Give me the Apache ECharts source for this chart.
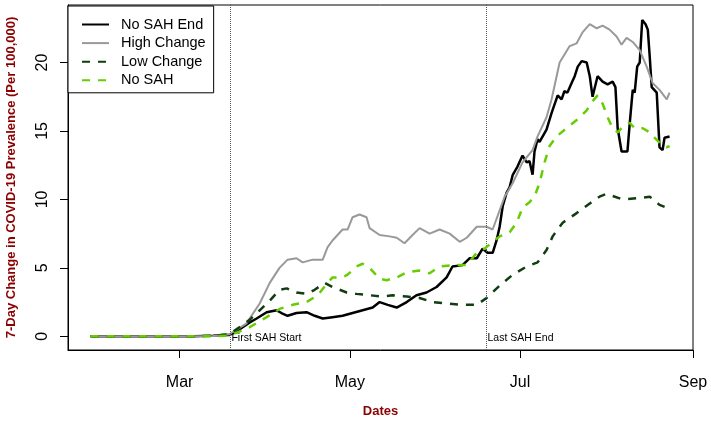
<!DOCTYPE html>
<html><head><meta charset="utf-8">
<script src="https://cdn.jsdelivr.net/npm/echarts@6/dist/echarts.min.js"></script>
<style>html,body{margin:0;padding:0;background:#fff}#c{width:711px;height:424px}</style>
</head><body><div id="c"></div>
<script>
// x values are day numbers of 2020 (Jan 1 = 0)
const monthTickDays = [60, 121, 182, 244];
const monthTickLabels = ['Mar', 'May', 'Jul', 'Sep'];
const yTickValues = [0, 5, 10, 15, 20];
const seriesNames = ['No SAH End', 'High Change', 'Low Change', 'No SAH'];
const sahDays = [78.2, 170.0];
const sahLabels = ['First SAH Start', 'Last SAH End'];

const noSahEndDays = [28.1,50,65,72,75,77.9,80,82.6,85,87.6,91.2,94.8,96.5,98.7,101.9,105.5,108.4,111.3,114.8,118.4,122.0,125.6,129.2,131.7,134.6,137.8,141.4,144.9,148.5,152.1,155.7,157.8,161.4,163.9,166.5,168.6,170.4,172.2,173.6,174.7,175.8,177.2,178.3,179.4,181.1,182.9,184.4,185.4,186.5,187.2,188.3,189.0,191.5,193.3,195.5,196.9,197.9,199.0,200.5,201.6,202.7,204.1,205.9,207.0,208.0,209.8,211.6,213.4,215.2,216.2,217.0,218.4,220.5,221.3,222.4,223.1,224.0,224.9,225.8,227.0,227.8,228.5,229.2,231.0,232.0,233.1,233.8,235.6];
const noSahEndValues = [0,0,0,0.05,0.1,0.1,0.3,0.66,1.0,1.3,1.76,1.9,1.7,1.5,1.7,1.76,1.5,1.3,1.4,1.5,1.7,1.9,2.1,2.5,2.3,2.1,2.5,3.0,3.2,3.6,4.3,5.1,5.2,5.7,5.7,6.4,6.1,6.1,7.0,8.0,9.5,10.5,10.9,11.8,12.4,13.2,12.7,12.8,11.8,13.5,14.4,14.2,15.1,16.3,17.6,17.3,17.9,17.8,18.5,19.0,19.7,20.1,20.0,19.0,17.5,19.0,18.6,18.4,18.6,18.2,15.2,13.5,13.5,15.5,18.0,17.8,19.7,20.0,23.1,22.8,22.4,20.4,18.2,17.8,13.8,13.6,14.5,14.6];

const highDays = [28.1,50,65,72,75,77.9,83.9,88.7,92.3,95.8,98.7,101.9,104.1,107.7,111.3,113.0,114.8,118.4,120.2,122.0,124.5,127.0,128.1,131.7,135.3,137.8,140.6,143.5,146.0,149.6,153.2,156.8,160.4,162.9,166.5,170.0,172.2,176.5,179.4,182.9,186.5,188.3,191.5,193.3,196.2,199.8,202.3,204.4,207.0,209.5,211.6,214.1,216.6,218.4,220.2,222.4,224.9,227.4,229.5,232.0,234.6,235.6];
const highValues = [0,0,0,0.03,0.08,0.15,0.93,2.4,3.9,5.0,5.6,5.7,5.4,5.6,5.6,6.5,7.0,7.8,7.8,8.7,8.9,8.7,7.9,7.4,7.3,7.2,6.8,7.4,7.9,7.5,7.8,7.5,6.9,7.2,8.0,8.0,7.8,10.2,11.2,12.7,13.6,14.6,16.0,17.3,20.0,21.2,21.4,22.2,22.8,22.5,22.7,22.4,21.9,21.3,21.8,21.5,20.9,19.7,18.5,18.0,17.3,17.8];

const lowDays = [28.1,50,65,72,75,77.9,85.1,88.7,92.3,95.8,98.4,101.9,105.5,108.4,112.0,114.8,119.9,123.4,128.1,132.8,136.3,141.4,146.0,150.7,155.7,161.4,166.5,170.0,174.7,179.4,184.4,188.3,191.5,193.7,197.3,202.3,207.0,210.5,213.0,218.8,224.9,228.5,232.0,235.6];
const lowValues = [0,0,0,0.05,0.1,0.15,1.2,1.9,2.6,3.4,3.5,3.2,3.1,3.4,3.9,3.6,3.2,3.1,3.0,2.9,3.0,2.9,2.8,2.5,2.4,2.3,2.3,2.8,3.7,4.5,5.1,5.4,6.3,7.3,8.3,9.0,9.7,10.2,10.4,10.0,10.1,10.2,9.6,9.3];

const noSahDays = [28.1,50,65,72,77.9,85.1,91.2,95.8,100.5,105.5,109.5,113.0,114.8,118.4,120.2,123.4,125.6,128.1,131.7,134.2,137.8,141.7,146.0,149.6,153.2,157.8,162.9,166.5,169.3,172.2,174.7,178.3,180.8,182.9,185.4,187.2,189.0,190.8,192.6,195.1,198.7,202.3,205.9,207.7,209.8,211.6,213.4,215.2,217.0,218.8,221.3,223.1,226.0,228.5,230.3,232.7,234.5,235.6];
const noSahValues = [0,0,0,0,0.05,0.66,1.4,2.0,2.3,2.5,3.0,3.9,4.3,4.3,4.5,5.1,5.3,5.0,4.2,4.1,4.3,4.7,4.8,4.6,5.1,5.2,5.2,6.1,6.4,6.9,7.3,7.6,8.3,9.4,9.8,10.2,11.2,12.7,13.9,14.6,15.2,15.8,16.5,17.1,17.6,17.0,16.0,15.2,14.9,15.3,15.6,15.2,15.2,14.9,14.5,14.0,13.8,13.9];

const FONT = "'Liberation Sans', Arial, sans-serif";
const zip = (xs, ys) => xs.map((x, i) => [x, ys[i]]);

const chart = echarts.init(document.getElementById('c'), null, {renderer: 'canvas'});
const lineBase = {type: 'line', symbol: 'none', showSymbol: false, animation: false, silent: true};
chart.setOption({
  animation: false,
  backgroundColor: '#fff',
  grid: {left: 68, right: 18, top: 5, bottom: 74, containLabel: false, outerBoundsMode: 'none',
    show: true, borderColor: '#000', borderWidth: 1, backgroundColor: 'transparent'},
  legend: {
    orient: 'vertical', left: 68, top: 6,
    data: seriesNames,
    itemWidth: 27, itemHeight: 14, itemGap: 3.6,
    padding: [11, 8, 5, 13],
    borderColor: '#000', borderWidth: 1, borderRadius: 0,
    backgroundColor: '#fff',
    itemStyle: {opacity: 0, borderWidth: 0},
    textStyle: {fontFamily: FONT, fontSize: 14.5, color: '#000', padding: [0, 0, 0, 7]},
    selectedMode: false
  },
  xAxis: {
    type: 'value', min: 20, max: 244,
    splitLine: {show: false},
    axisLine: {show: true, onZero: false, lineStyle: {color: '#000', width: 1}},
    axisTick: {show: true, customValues: monthTickDays, length: 8, lineStyle: {color: '#000'}},
    axisLabel: {customValues: monthTickDays, margin: 25, fontFamily: FONT, fontSize: 16, color: '#000',
      formatter: v => monthTickLabels[monthTickDays.indexOf(v)] || ''},
    name: 'Dates', nameLocation: 'middle', nameGap: 55,
    nameTextStyle: {fontFamily: FONT, fontSize: 13, fontWeight: 'bold', color: '#8B0000'}
  },
  yAxis: {
    type: 'value', min: -1.0, max: 24.2,
    splitLine: {show: false},
    axisLine: {show: true, onZero: false, lineStyle: {color: '#000', width: 1}},
    axisTick: {show: true, customValues: yTickValues, length: 8, lineStyle: {color: '#000'}},
    axisLabel: {customValues: yTickValues, rotate: 90, margin: 17, fontFamily: FONT, fontSize: 16, color: '#000'},
    name: '7-Day Change in COVID-19 Prevalence (Per 100,000)', nameLocation: 'middle', nameGap: 50,
    nameTextStyle: {fontFamily: FONT, fontSize: 13, fontWeight: 'bold', color: '#8B0000'}
  },
  series: [
    Object.assign({}, lineBase, {name: seriesNames[0], data: zip(noSahEndDays, noSahEndValues),
      lineStyle: {color: '#000', width: 2.5}, itemStyle: {color: '#000'}, z: 2,
      markLine: {silent: true, symbol: 'none', animation: false,
        lineStyle: {type: 'dotted', color: '#555', width: 1},
        label: {show: false},
        data: sahDays.map(d => ({xAxis: d}))},
      markPoint: {silent: true, symbol: 'circle', symbolSize: 0, animation: false,
        label: {show: true, position: 'right', distance: 1, fontFamily: FONT, fontSize: 10.5, color: '#000',
          formatter: p => p.name},
        data: sahDays.map((d, i) => ({name: sahLabels[i], coord: [d, -0.1]}))}
    }),
    Object.assign({}, lineBase, {name: seriesNames[1], data: zip(highDays, highValues),
      lineStyle: {color: '#999', width: 2}, itemStyle: {color: '#999'}, z: 3}),
    Object.assign({}, lineBase, {name: seriesNames[2], data: zip(lowDays, lowValues),
      lineStyle: {color: '#113d11', width: 2.5, type: [8, 8]}, itemStyle: {color: '#113d11'}, z: 4}),
    Object.assign({}, lineBase, {name: seriesNames[3], data: zip(noSahDays, noSahValues),
      lineStyle: {color: '#66CD00', width: 2.5, type: [8, 8]}, itemStyle: {color: '#66CD00'}, z: 5})
  ]
});
</script></body></html>
